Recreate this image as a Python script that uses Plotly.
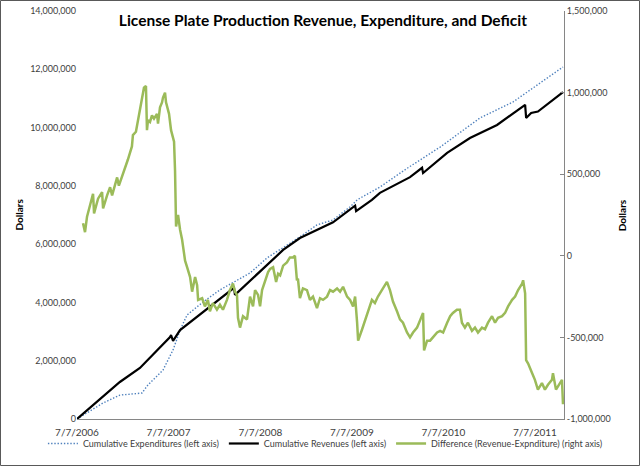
import pandas as pd
import plotly.graph_objects as go

START = pd.Timestamp("2006-07-07")

# Cumulative revenues (left axis) – days since 7/7/2006, dollars
rev_days = [0, 171, 251, 343, 371, 375, 383, 411, 502, 610, 626, 630, 690, 822, 889,
            1021, 1109, 1113, 1176, 1208, 1328, 1376, 1380, 1476, 1567, 1675, 1787,
            1791, 1811, 1838, 1938]
rev_vals = [0, 1.27e6, 1.75e6, 2.54e6, 2.81e6, 2.88e6, 2.68e6, 3.05e6, 3.67e6, 4.39e6,
            4.50e6, 4.26e6, 4.74e6, 5.80e6, 6.21e6, 6.75e6, 7.32e6, 7.13e6, 7.52e6,
            7.76e6, 8.30e6, 8.62e6, 8.44e6, 9.13e6, 9.64e6, 10.09e6, 10.78e6, 10.33e6,
            10.50e6, 10.55e6, 11.22e6]

# Cumulative expenditures (left axis)
exp_days = [0, 52, 104, 171, 259, 283, 343, 383, 411, 439, 502, 570, 638, 690, 758,
            889, 957, 1021, 1089, 1117, 1208, 1316, 1448, 1539, 1607, 1739, 1807, 1938]
exp_vals = [0, 0.28e6, 0.55e6, 0.82e6, 0.89e6, 1.17e6, 1.68e6, 2.37e6, 3.05e6, 3.57e6,
            4.01e6, 4.43e6, 4.77e6, 5.01e6, 5.53e6, 6.25e6, 6.66e6, 6.83e6, 7.28e6,
            7.52e6, 7.96e6, 8.60e6, 9.33e6, 9.92e6, 10.33e6, 10.88e6, 11.29e6, 12.08e6]

# Difference (revenue - expenditure), right axis
diff_days = [24, 32, 40, 52, 64, 68, 84, 100, 104, 120, 132, 140, 152, 160, 167, 179,
             191, 203, 219, 223, 235, 243, 259, 267, 275, 279, 283, 291, 299, 307, 319,
             323, 331, 339, 343, 351, 355, 359, 367, 375, 383, 387, 391, 395, 403, 407,
             411, 419, 431, 439, 451, 459, 471, 479, 483, 499, 510, 522, 530, 542, 558,
             570, 582, 598, 610, 622, 630, 638, 642, 650, 662, 678, 690, 702, 710, 722,
             730, 738, 750, 762, 770, 782, 794, 802, 810, 822, 837, 849, 861, 869, 877,
             881, 889, 901, 917, 929, 941, 957, 969, 981, 997, 1009, 1021, 1037, 1049,
             1061, 1077, 1089, 1101, 1109, 1117, 1121, 1137, 1149, 1160, 1176, 1188,
             1200, 1220, 1236, 1248, 1260, 1276, 1288, 1300, 1316, 1328, 1340, 1356,
             1368, 1380, 1384, 1396, 1408, 1420, 1436, 1448, 1460, 1476, 1488, 1499,
             1515, 1527, 1535, 1547, 1559, 1575, 1587, 1599, 1615, 1627, 1639, 1655,
             1667, 1679, 1695, 1707, 1719, 1735, 1747, 1759, 1775, 1779, 1787, 1791,
             1799, 1815, 1826, 1838, 1854, 1866, 1878, 1894, 1898, 1910, 1918, 1934, 1938]
diff_vals = [0.20, 0.145, 0.24, 0.32, 0.38, 0.26, 0.35, 0.39, 0.29, 0.37, 0.42, 0.37,
             0.43, 0.48, 0.43, 0.48, 0.54, 0.59, 0.67, 0.74, 0.76, 0.83, 0.95, 1.03,
             1.04, 0.77, 0.83, 0.82, 0.86, 0.84, 0.87, 0.81, 0.91, 0.94, 0.97, 1.00,
             0.94, 0.91, 0.87, 0.77, 0.73, 0.70, 0.52, 0.18, 0.25, 0.20, 0.16, 0.10,
             -0.03, -0.07, -0.13, -0.22, -0.13, -0.18, -0.27, -0.26, -0.31, -0.27,
             -0.34, -0.29, -0.33, -0.30, -0.33, -0.27, -0.21, -0.17, -0.22, -0.24,
             -0.38, -0.44, -0.37, -0.39, -0.25, -0.31, -0.21, -0.24, -0.31, -0.21,
             -0.15, -0.10, -0.08, -0.07, -0.16, -0.11, -0.12, -0.06, -0.04, -0.01,
             -0.01, 0.00, -0.15, -0.14, -0.26, -0.20, -0.21, -0.27, -0.25, -0.32,
             -0.26, -0.27, -0.25, -0.21, -0.22, -0.20, -0.22, -0.19, -0.25, -0.27,
             -0.31, -0.25, -0.41, -0.52, -0.45, -0.39, -0.35, -0.27, -0.29, -0.25,
             -0.20, -0.16, -0.21, -0.28, -0.34, -0.39, -0.41, -0.47, -0.50, -0.47,
             -0.44, -0.39, -0.35, -0.58, -0.52, -0.52, -0.50, -0.47, -0.46, -0.47,
             -0.41, -0.37, -0.35, -0.33, -0.33, -0.41, -0.44, -0.41, -0.46, -0.44,
             -0.47, -0.44, -0.45, -0.41, -0.37, -0.41, -0.38, -0.37, -0.35, -0.31,
             -0.27, -0.25, -0.21, -0.17, -0.15, -0.23, -0.64, -0.66, -0.72, -0.76,
             -0.82, -0.78, -0.82, -0.79, -0.76, -0.72, -0.82, -0.80, -0.76, -0.91]
diff_vals = [v * 1e6 for v in diff_vals]

x_tick_dates = ["2006-07-07", "2007-07-07", "2008-07-07", "2009-07-07", "2010-07-07", "2011-07-07"]
x_tick_text = ["7/7/2006", "7/7/2007", "7/7/2008", "7/7/2009", "7/7/2010", "7/7/2011"]
left_ticks = [0, 2e6, 4e6, 6e6, 8e6, 10e6, 12e6, 14e6]
left_text = ["0", "2,000,000", "4,000,000", "6,000,000", "8,000,000", "10,000,000",
             "12,000,000", "14,000,000"]
right_ticks = [-1e6, -5e5, 0, 5e5, 1e6, 1.5e6]
right_text = ["-1,000,000", "-500,000", "0", "500,000", "1,000,000", "1,500,000"]


def to_dates(days):
    return [START + pd.Timedelta(days=d) for d in days]


FONT = "Lato, 'Open Sans', sans-serif"
TXT = "#404040"

fig = go.Figure()
fig.add_trace(go.Scatter(x=to_dates(exp_days), y=exp_vals, mode="lines",
                         name="Cumulative Expenditures (left axis)",
                         line=dict(color="#4F81BD", width=1.4, dash="1.4px,1.8px")))
fig.add_trace(go.Scatter(x=to_dates(rev_days), y=rev_vals, mode="lines",
                         name="Cumulative Revenues (left axis)",
                         line=dict(color="#000000", width=2.2)))
fig.add_trace(go.Scatter(x=to_dates(diff_days), y=diff_vals, mode="lines",
                         name="Difference (Revenue-Expnditure) (right axis)",
                         line=dict(color="#9BBB59", width=2.5), yaxis="y2"))

fig.update_layout(
    width=640, height=466,
    margin=dict(l=77, r=76, t=11, b=47, autoexpand=False),
    paper_bgcolor="white", plot_bgcolor="white",
    font=dict(family=FONT, size=10, color=TXT),
    showlegend=True,
    title=dict(text="<b>License Plate Production Revenue, Expenditure, and Deficit</b>",
               xref="paper", x=0.505, xanchor="center",
               yref="container", y=1 - 21 / 466, yanchor="middle",
               font=dict(size=15.5, color="#000000", family=FONT)),
    legend=dict(orientation="h", x=-0.07, xanchor="left",
                y=-0.0245, yanchor="top",
                font=dict(size=9, color=TXT), itemwidth=30, tracegroupgap=0,
                bgcolor="rgba(0,0,0,0)"),
    xaxis=dict(type="date",
               range=[START, START + pd.Timedelta(days=1942)],
               tickvals=x_tick_dates, ticktext=x_tick_text,
               showline=True, linecolor="#868686", linewidth=1,
               showgrid=False, zeroline=False, ticks="", ticklabelstandoff=4,
               tickfont=dict(size=10, color=TXT)),
    yaxis=dict(range=[0, 14e6], tickvals=left_ticks, ticktext=left_text,
               showline=False, showgrid=False, zeroline=False, ticks="",
               tickfont=dict(size=9, color=TXT)),
    yaxis2=dict(range=[-1e6, 1.5e6], overlaying="y", side="right",
                tickvals=right_ticks, ticktext=right_text,
                showline=True, linecolor="#868686", linewidth=1,
                ticks="inside", ticklen=4, tickcolor="#868686",
                showgrid=False, zeroline=False,
                tickfont=dict(size=9, color=TXT)),
    annotations=[
        dict(text="<b>Dollars</b>", xref="paper", yref="paper", x=-0.12, y=0.5,
             textangle=-90, showarrow=False, xanchor="center", yanchor="middle",
             font=dict(size=10, color="#000000", family=FONT)),
        dict(text="<b>Dollars</b>", xref="paper", yref="paper", x=1.1195, y=0.5,
             textangle=-90, showarrow=False, xanchor="center", yanchor="middle",
             font=dict(size=10, color="#000000", family=FONT)),
    ],
    shapes=[dict(type="rect", xref="paper", yref="paper",
                 x0=-76.5 / 487, x1=1 + 75.5 / 487, y0=-46.5 / 408, y1=1 + 10.5 / 408,
                 line=dict(color="#595959", width=1), fillcolor="rgba(0,0,0,0)",
                 layer="below")],
)

fig.write_html("out.html", config={"displayModeBar": False},
               post_script="document.body.style.margin='0px';document.body.style.padding='0px';")
